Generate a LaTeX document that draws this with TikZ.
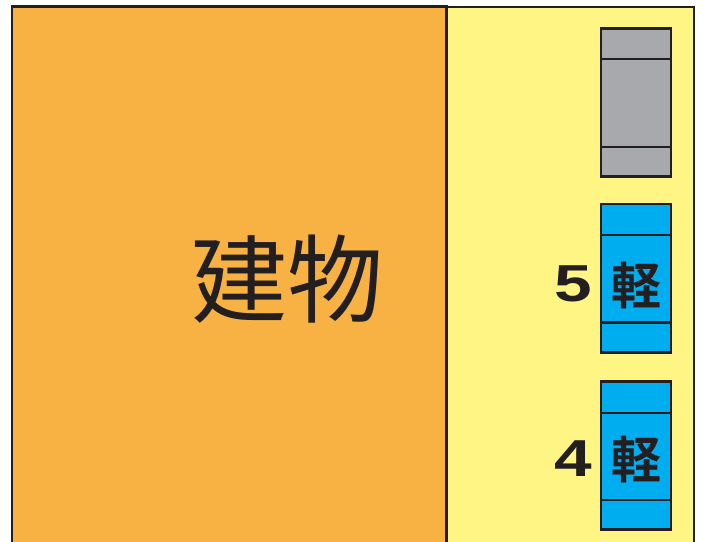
\documentclass[tikz,border=0pt]{standalone}
\usepackage{fontspec}
\newfontfamily\cjk{Noto Sans CJK JP}
\newfontfamily\cjkb{Noto Sans CJK JP Bold}
\newfontfamily\numfont{Liberation Sans Bold}
\definecolor{bldg}{HTML}{F7B243}
\definecolor{lot}{HTML}{FFF585}
\definecolor{grey}{HTML}{A7A9AC}
\definecolor{kei}{HTML}{00AEEF}
\definecolor{ink}{HTML}{231F20}
\tikzset{
  edge/.style={draw=ink,line width=2.6pt},
  carline/.style={draw=ink,line width=2.4pt},
  numlabel/.style={text=ink,font=\numfont\fontsize{52}{52}\selectfont,xscale=1.3,inner sep=0pt},
  keilabel/.style={text=ink,font=\cjkb\fontsize{50}{50}\selectfont,inner sep=0pt},
}
\begin{document}
\begin{tikzpicture}[x=1pt,y=-1pt]
\useasboundingbox (0,0) rectangle (703,541);
\begin{scope}
\clip (0,0) rectangle (703,541);
\fill[white] (0,0) rectangle (703,541);
% building
\path[edge,fill=bldg] (12,6.5) rectangle (446.5,560);
% parking strip
\path[edge,fill=lot] (446.5,7) rectangle (694,560);
% grey car
\path[carline,fill=grey] (601,28.5) rectangle (671,176.5);
\draw[carline] (601,59) -- (671,59);
\draw[carline] (601,147) -- (671,147);
% car 5
\path[carline,fill=kei] (601,204) rectangle (671,352.5);
\draw[carline] (601,235) -- (671,235);
\draw[carline] (601,322.5) -- (671,322.5);
% car 4
\path[carline,fill=kei] (601,381.5) rectangle (671,529.5);
\draw[carline] (601,413) -- (671,413);
\draw[carline] (601,500) -- (671,500);
\end{scope}
\node[text=ink,font=\cjk\fontsize{96}{96}\selectfont,inner sep=0pt] (bldgtext) at (287,279) {建物};
\node[numlabel] (n5) at (573,284) {5};
\node[keilabel] (k5) at (636,285) {軽};
\node[numlabel] (n4) at (573,459) {4};
\node[keilabel] (k4) at (636,459) {軽};
\end{tikzpicture}
\end{document}
